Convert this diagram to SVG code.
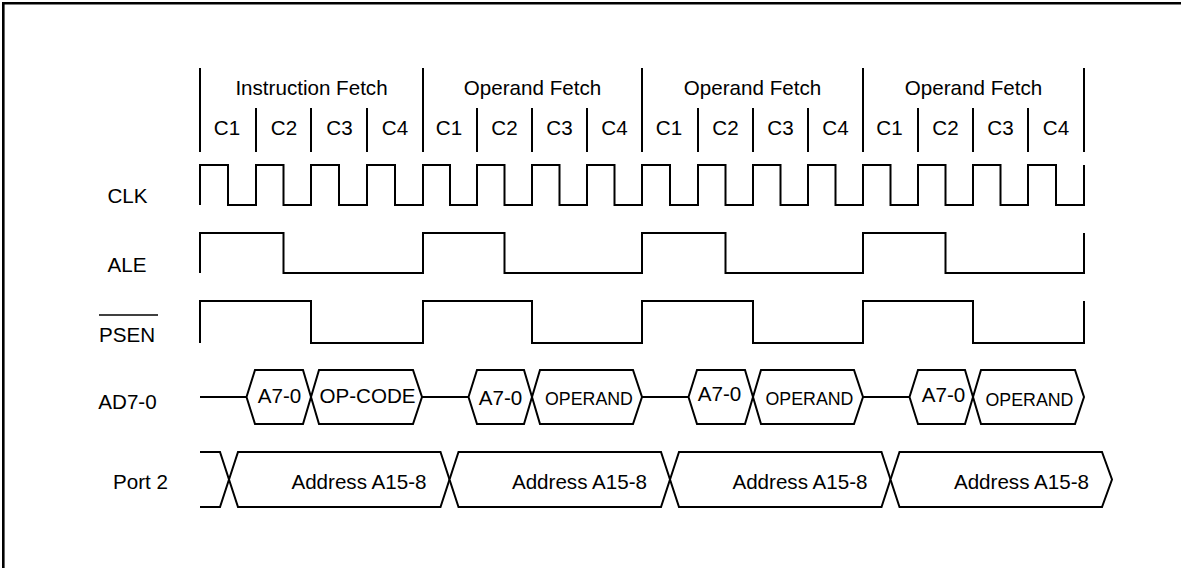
<svg xmlns="http://www.w3.org/2000/svg" width="1181" height="568" viewBox="0 0 1181 568">
<style>
text{font-family:"Liberation Sans",Arial,sans-serif;font-size:20.6px;fill:#000}
.m{text-anchor:middle}
.e{text-anchor:end}
.sm{font-size:17.8px}
.w{fill:none;stroke:#000;stroke-width:2;stroke-linejoin:miter;stroke-linecap:butt}
.hx{fill:#fff;stroke:#000;stroke-width:2;stroke-linejoin:miter}
</style>
<rect x="0" y="0" width="1181" height="568" fill="#fff"/>
<path d="M3.3,568 V3.3 H1181" fill="none" stroke="#000" stroke-width="2.6"/>

<g id="header">
  <path class="w" d="M200,68 V152 M423,68 V152 M642,68 V152 M863,68 V152 M1084,68 V152
  M256,108 V152 M311,108 V152 M367,108 V152
  M477,108 V152 M532,108 V152 M587,108 V152
  M698,108 V152 M753,108 V152 M808,108 V152
  M918,108 V152 M973,108 V152 M1028,108 V152"/>
  <text class="m" x="311.5" y="94.5">Instruction Fetch</text>
  <text class="m" x="532.5" y="94.5">Operand Fetch</text>
  <text class="m" x="752.5" y="94.5">Operand Fetch</text>
  <text class="m" x="973.5" y="94.5">Operand Fetch</text>
  <text class="m" x="227" y="135">C1</text>
  <text class="m" x="284" y="135">C2</text>
  <text class="m" x="339.5" y="135">C3</text>
  <text class="m" x="395" y="135">C4</text>
  <text class="m" x="449" y="135">C1</text>
  <text class="m" x="504.5" y="135">C2</text>
  <text class="m" x="559.5" y="135">C3</text>
  <text class="m" x="614.5" y="135">C4</text>
  <text class="m" x="669" y="135">C1</text>
  <text class="m" x="725.5" y="135">C2</text>
  <text class="m" x="780.5" y="135">C3</text>
  <text class="m" x="835.5" y="135">C4</text>
  <text class="m" x="889.5" y="135">C1</text>
  <text class="m" x="945.5" y="135">C2</text>
  <text class="m" x="1000.5" y="135">C3</text>
  <text class="m" x="1056" y="135">C4</text>
</g>

<g id="labels">
  <text class="m" x="127.5" y="203">CLK</text>
  <text class="m" x="127" y="271.5">ALE</text>
  <text class="m" x="127" y="341.5">PSEN</text>
  <line x1="99" y1="315" x2="158" y2="315" stroke="#000" stroke-width="1.6"/>
  <text class="m" x="127.5" y="408.5">AD7-0</text>
  <text class="m" x="140.5" y="489">Port 2</text>
</g>

<g id="clk">
  <path class="w" d="M200,205 V165 H228 V205 H256 V165 H283.5 V205 H311 V165 H339 V205 H367 V165 H395 V205 H423 V165 H450 V205 H477 V165 H504.5 V205 H532 V165 H559.5 V205 H587 V165 H614.5 V205 H642 V165 H670 V205 H698 V165 H725.5 V205 H753 V165 H780.5 V205 H808 V165 H835.5 V205 H863 V165 H890.5 V205 H918 V165 H945.5 V205 H973 V165 H1000.5 V205 H1028 V165 H1056 V205 H1084 V165"/>
</g>

<g id="ale">
  <path class="w" d="M200,273 V233 H283.5 V273 H423 V233 H504.5 V273 H642 V233 H725.5 V273 H863 V233 H945.5 V273 H1084 V233"/>
</g>

<g id="psen">
  <path class="w" d="M200,343 V301 H311 V343 H423 V301 H532 V343 H642 V301 H753 V343 H863 V301 H973 V343 H1084 V301"/>
</g>

<g id="ad70">
  <path class="w" d="M200,397 H246.5 M422,397 H468.5 M642,397 H688.5 M863,397 H909.5"/>
  <polygon class="hx" points="246.5,397 255,370 303,370 311,397 303,424 255,424"/>
  <polygon class="hx" points="311,397 319,370 413,370 422,397 413,424 319,424"/>
  <polygon class="hx" points="468.5,397 477,370 524,370 532,397 524,424 477,424"/>
  <polygon class="hx" points="532,397 540,370 633,370 642,397 633,424 540,424"/>
  <polygon class="hx" points="688.5,397 697,370 745,370 753,397 745,424 697,424"/>
  <polygon class="hx" points="753,397 761,370 854,370 863,397 854,424 761,424"/>
  <polygon class="hx" points="909.5,397 918,370 965,370 973,397 965,424 918,424"/>
  <polygon class="hx" points="973,397 981,370 1075,370 1084,397 1075,424 981,424"/>
  <text class="m" x="279.5" y="403">A7-0</text>
  <text class="m" x="367.5" y="403">OP-CODE</text>
  <text class="m" x="500.5" y="405">A7-0</text>
  <text class="m sm" x="589" y="405">OPERAND</text>
  <text class="m" x="719.5" y="401">A7-0</text>
  <text class="m sm" x="809.5" y="405">OPERAND</text>
  <text class="m" x="943.5" y="402">A7-0</text>
  <text class="m sm" x="1029.5" y="405.5">OPERAND</text>
</g>

<g id="port2">
  <path class="w" d="M200,452 H220 L229,479.5 L220,507 H200"/>
  <polygon class="hx" points="229,479.5 238,452 440.5,452 449.5,479.5 440.5,507 238,507"/>
  <polygon class="hx" points="449.5,479.5 458.5,452 661,452 670,479.5 661,507 458.5,507"/>
  <polygon class="hx" points="670,479.5 679,452 881.5,452 890.5,479.5 881.5,507 679,507"/>
  <polygon class="hx" points="890.5,479.5 899.5,452 1102,452 1112,479.5 1102,507 899.5,507"/>
  <text class="e" x="426.5" y="489">Address A15-8</text>
  <text class="e" x="647" y="489">Address A15-8</text>
  <text class="e" x="867.5" y="489">Address A15-8</text>
  <text class="e" x="1089" y="489">Address A15-8</text>
</g>
</svg>
